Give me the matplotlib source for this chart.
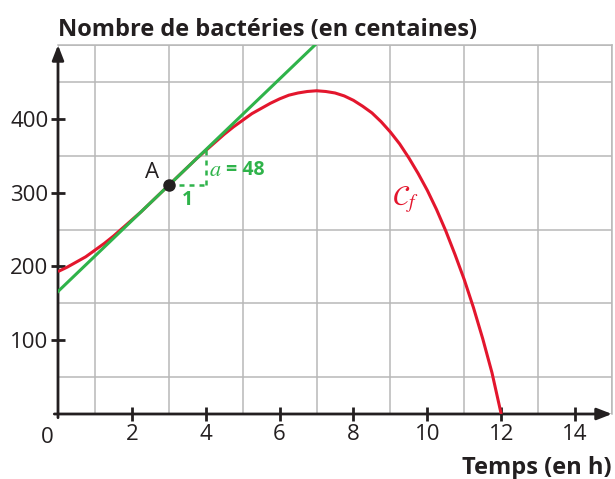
import numpy as np
import matplotlib
matplotlib.use("Agg")
import matplotlib.pyplot as plt

# Data
hours = [0, 0.25, 0.5, 0.75, 1, 1.25, 1.5, 1.75, 2, 2.25, 2.5, 2.75, 3, 3.25,
         3.5, 3.75, 4, 4.25, 4.5, 4.75, 5, 5.25, 5.5, 5.75, 6, 6.25, 6.5, 6.75,
         7, 7.25, 7.5, 7.75, 8, 8.25, 8.5, 8.75, 9, 9.25, 9.5, 9.75, 10, 10.25,
         10.5, 10.75, 11, 11.25, 11.5, 11.75, 12]
bacteria = [193, 199, 206, 213, 222, 231, 241, 252, 263, 274, 286, 298, 310, 322,
            334, 346, 357, 368, 379, 389, 398, 407, 414, 421, 427, 432, 435, 437,
            438, 437, 435, 431, 425, 417, 408, 396, 382, 366, 347, 326, 303, 277,
            248, 216, 182, 144, 102, 56, 0]
tangent_x = [0, 7]
tangent_y = [166, 502]
point_A = (3, 310)
slope = 48
x_ticks = [2, 4, 6, 8, 10, 12, 14]
y_ticks = [100, 200, 300, 400]

RED = "#e3162d"
GREEN = "#2fb34a"
DARK = "#231f20"
FONT = "Open Sans"

fig = plt.figure(figsize=(6.15, 4.79), dpi=100)
ax = fig.add_axes([58 / 615, 65 / 479, 554 / 615, 369 / 479])
ax.set_xlim(0, 15)
ax.set_ylim(0, 500)

# grid
ax.set_xticks(np.arange(0, 16, 1), minor=True)
ax.set_yticks(np.arange(0, 501, 50), minor=True)
ax.grid(which="minor", color="#b8b8b8", lw=1.1, zorder=0)
ax.tick_params(which="minor", length=0)
for s in ["top", "right"]:
    ax.spines[s].set_color("#b8b8b8")
    ax.spines[s].set_linewidth(1.1)
for s in ["bottom", "left"]:
    ax.spines[s].set_visible(False)

ax.set_xticks(x_ticks)
ax.set_yticks(y_ticks)
ax.set_xticklabels([str(v) for v in x_ticks], fontname=FONT, fontsize=16, color=DARK)
ax.set_yticklabels([str(v) for v in y_ticks], fontname=FONT, fontsize=16, color=DARK)
ax.tick_params(which="major", direction="inout", length=10, width=2, color=DARK, pad=2)

# axes with arrows
ax.annotate("", xy=(15, 0), xytext=(-0.1, 0), xycoords="data",
            arrowprops=dict(arrowstyle="-|>,head_length=0.9,head_width=0.35", color=DARK,
                            lw=2, shrinkA=0, shrinkB=0), annotation_clip=False)
ax.annotate("", xy=(0, 500), xytext=(0, -5), xycoords="data",
            arrowprops=dict(arrowstyle="-|>,head_length=0.9,head_width=0.35", color=DARK,
                            lw=2, shrinkA=0, shrinkB=0), annotation_clip=False)

# curves
ax.plot(hours, bacteria, color=RED, lw=2.2, zorder=3, solid_capstyle="butt")
ax.plot(tangent_x, tangent_y, color=GREEN, lw=2.2, zorder=4)
ax.plot([point_A[0], point_A[0] + 1], [point_A[1], point_A[1]], color=GREEN, lw=1.8,
        ls=(0, (2, 2)), zorder=4)
ax.plot([point_A[0] + 1, point_A[0] + 1], [point_A[1], point_A[1] + slope], color=GREEN,
        lw=1.8, ls=(0, (2, 2)), zorder=4)
ax.plot([point_A[0]], [point_A[1]], "o", color=DARK, ms=8, zorder=5)

ax.text(2.55, 327, "A", fontname=FONT, fontsize=16, color=DARK, ha="center", va="center")
ax.text(3.5, 290, "1", fontname=FONT, fontsize=14, fontweight="bold", color=GREEN,
        ha="center", va="center")
ax.text(4.08, 331, "$a$", fontsize=16, color=GREEN, ha="left", va="center",
        math_fontfamily="stix")
ax.text(4.55, 331, "= 48", fontname=FONT, fontsize=14, fontweight="bold", color=GREEN,
        ha="left", va="center")
ax.text(9.05, 290, r"$\mathcal{C}_f$", fontsize=20, color=RED, ha="left", va="center",
        math_fontfamily="stix")

ax.text(-0.28, -32, "0", fontname=FONT, fontsize=16, color=DARK, ha="center", va="center")

fig.text(58 / 615, 1 - 36 / 479, "Nombre de bactéries (en centaines)", fontname=FONT,
         fontsize=17, fontweight="bold", color=DARK, ha="left", va="baseline")
fig.text(612 / 615, 1 - 474 / 479, "Temps (en h)", fontname=FONT, fontsize=17,
         fontweight="bold", color=DARK, ha="right", va="baseline")

fig.savefig("out.png", dpi=100)
